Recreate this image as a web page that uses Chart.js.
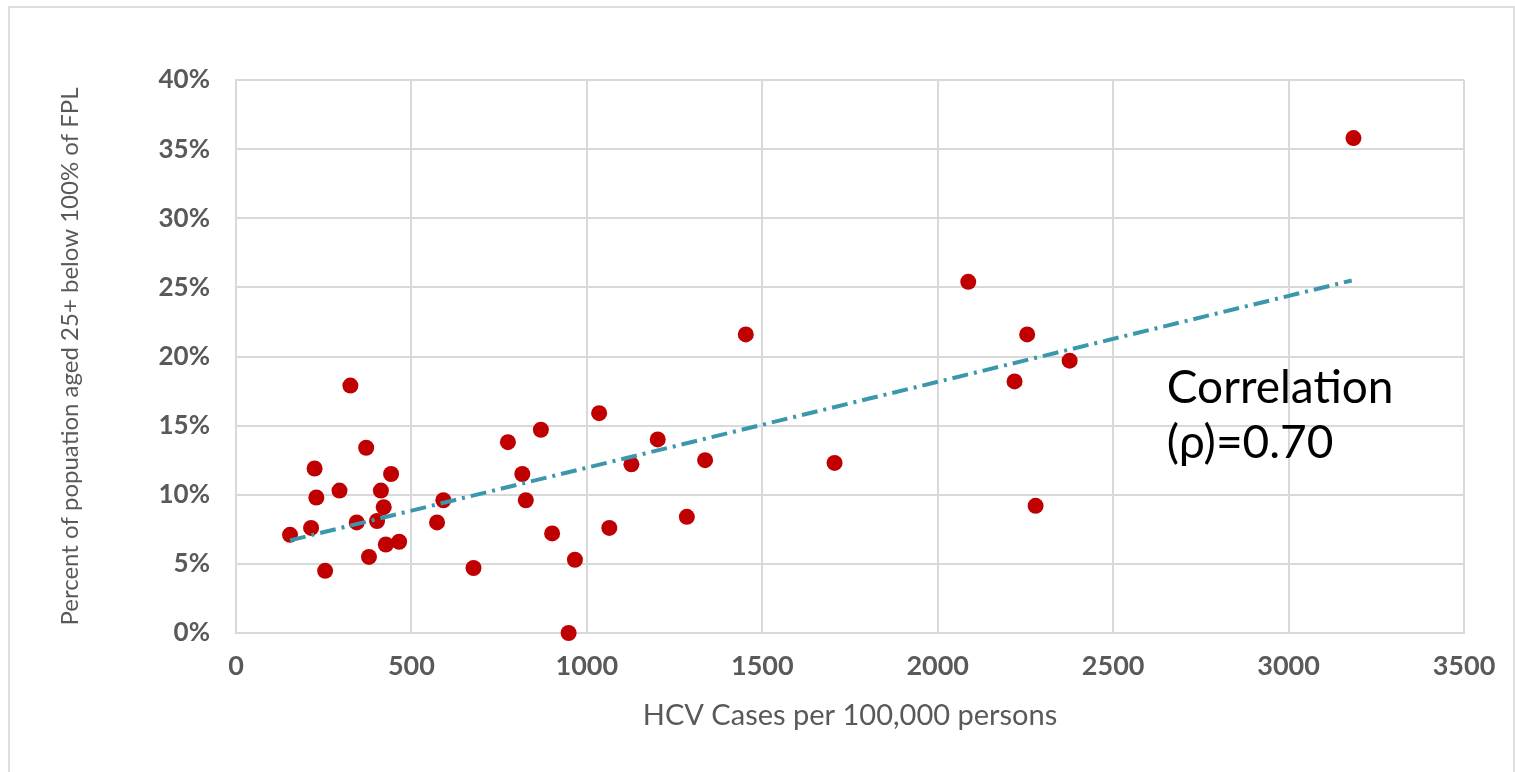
<!DOCTYPE html>
<html>
<head>
<meta charset="utf-8">
<script src="https://cdn.jsdelivr.net/npm/chart.js@4"></script>
<style>
  body { margin: 0; background: #fff; overflow: hidden; }
  #frame { position: absolute; left: 8px; top: 6px; width: 1503px; height: 800px; border: 2px solid #dedede; }
  #hcv-chart { position: absolute; left: 0; top: 0; }
</style>
</head>
<body>
<div id="frame"></div>
<canvas id="hcv-chart" width="1515" height="772"></canvas>
<script>
// HCV case rate (per 100,000) for each area
const hcvRates = [
  154, 214, 224, 229, 254, 295, 326, 344, 371, 379, 402, 413, 421, 427, 442, 465,
  573, 591, 677, 775, 816, 826, 869, 901, 948, 966, 1035, 1064, 1127, 1202, 1285,
  1337, 1453, 1706, 2087, 2219, 2255, 2279, 2376, 3185
];
// percent of population aged 25+ below 100% of FPL, same order
const povertyPct = [
  7.1, 7.6, 11.9, 9.8, 4.5, 10.3, 17.9, 8.0, 13.4, 5.5, 8.1, 10.3, 9.1, 6.4, 11.5, 6.6,
  8.0, 9.6, 4.7, 13.8, 11.5, 9.6, 14.7, 7.2, 0.0, 5.3, 15.9, 7.6, 12.2, 14.0, 8.4,
  12.5, 21.6, 12.3, 25.4, 18.2, 21.6, 9.2, 19.7, 35.8
];
// linear trendline end points
const trendX = [154, 3180];
const trendY = [6.7, 25.5];

const xTicks = [0, 500, 1000, 1500, 2000, 2500, 3000, 3500];
const yTicks = [0, 5, 10, 15, 20, 25, 30, 35, 40];

const noteLines = ['Correlation', '(\u03c1)=0.70'];

const grey = '#595959';
const gridColor = '#d9d9d9';

//writes the correlation note inside the plot
const notePlugin = {
  id: 'note',
  afterDatasetsDraw(chart) {
    const ctx = chart.ctx;
    const x = chart.scales.x.getPixelForValue(2653);
    const y1 = chart.scales.y.getPixelForValue(16.66);
    const y2 = chart.scales.y.getPixelForValue(12.69);
    ctx.save();
    ctx.fillStyle = '#000';
    ctx.font = '46px Lato';
    ctx.textBaseline = 'alphabetic';
    ctx.textAlign = 'left';
    ctx.fillText(noteLines[0], x, y1);
    ctx.fillText(noteLines[1], x, y2);
    ctx.restore();
  }
};

const points = hcvRates.map((v, i) => ({ x: v, y: povertyPct[i] }));
const trend = trendX.map((v, i) => ({ x: v, y: trendY[i] }));

var ctx = document.getElementById('hcv-chart').getContext('2d');

new Chart(ctx, {
  type: 'scatter',
  data: {
    datasets: [{
      label: 'Trend',
      data: trend,
      showLine: true,
      borderColor: '#3b97ab',
      borderWidth: 4,
      borderDash: [16, 6, 3, 6],
      pointRadius: 0,
      fill: false,
      order: 0
    }, {
      label: 'Areas',
      data: points,
      backgroundColor: '#c00000',
      borderColor: '#c00000',
      pointRadius: 8,
      borderWidth: 0,
      clip: false,
      order: 1
    }]
  },
  options: {
    responsive: false,
    animation: false,
    layout: { padding: { left: 0, top: 80, right: 51, bottom: 0 } },
    plugins: {
      legend: { display: false },
      tooltip: { enabled: false }
    },
    scales: {
      x: {
        type: 'linear',
        min: 0,
        max: 3500,
        afterFit: scale => { scale.height = 139; },
        afterBuildTicks: scale => { scale.ticks = xTicks.map(v => ({ value: v })); },
        grid: { color: gridColor, lineWidth: 2, drawTicks: false },
        border: { color: gridColor, width: 2 },
        ticks: {
          padding: 17,
          color: grey,
          font: { family: 'Lato', size: 27, weight: 'bold' },
          callback: v => String(v)
        },
        title: {
          display: true,
          text: 'HCV Cases per 100,000 persons',
          color: grey,
          font: { family: 'Lato', size: 29 },
          padding: { top: 0, bottom: 39 }
        }
      },
      y: {
        type: 'linear',
        min: 0,
        max: 40,
        afterFit: scale => { scale.width = 236; },
        afterBuildTicks: scale => { scale.ticks = yTicks.map(v => ({ value: v })); },
        grid: { color: gridColor, lineWidth: 2, drawTicks: false },
        border: { color: gridColor, width: 2 },
        ticks: {
          padding: 26,
          color: grey,
          font: { family: 'Lato', size: 26, weight: 'bold' },
          callback: v => v + '%'
        },
        title: {
          display: true,
          text: 'Percent of popuation aged 25+ below 100% of FPL',
          color: grey,
          font: { family: 'Lato', size: 24 },
          padding: { top: 56, bottom: 0 }
        }
      }
    }
  },
  plugins: [notePlugin]
});
</script>
</body>
</html>
